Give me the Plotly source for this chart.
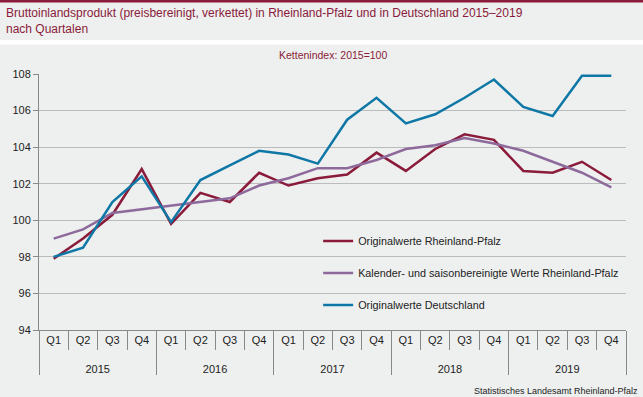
import plotly.graph_objects as go

years = ["2015"] * 4 + ["2016"] * 4 + ["2017"] * 4 + ["2018"] * 4 + ["2019"] * 4
quarters = ["Q1", "Q2", "Q3", "Q4"] * 5

rlp_original = [97.9, 99.0, 100.3, 102.8, 99.8, 101.5, 101.0, 102.6, 101.9, 102.3,
                102.5, 103.7, 102.7, 103.9, 104.7, 104.4, 102.7, 102.6, 103.2, 102.2]
rlp_adjusted = [99.0, 99.5, 100.4, 100.6, 100.8, 101.0, 101.2, 101.9, 102.3, 102.85,
                102.85, 103.3, 103.9, 104.1, 104.5, 104.2, 103.8, 103.2, 102.6, 101.8]
de_original = [98.0, 98.5, 101.0, 102.4, 99.9, 102.2, 103.0, 103.8, 103.6, 103.1,
               105.5, 106.7, 105.3, 105.8, 106.7, 107.7, 106.2, 105.7, 107.9, 107.9]

names = ["Originalwerte Rheinland-Pfalz",
         "Kalender- und saisonbereinigte Werte Rheinland-Pfalz",
         "Originalwerte Deutschland"]
colors = ["#8a1b3a", "#8d6a9b", "#0e77a6"]

BG = "#eef0ef"
MAROON = "#8a1b3a"
FONT = "Liberation Sans"

# year row pushed down a little (leading line break) to match the reference spacing
year_labels = ["<br>" + y for y in years]

fig = go.Figure()
x = [year_labels, quarters]
for i, (vals, name, col) in enumerate(zip([rlp_original, rlp_adjusted, de_original], names, colors)):
    fig.add_trace(go.Scatter(
        x=x, y=vals, mode="lines", name=name,
        line=dict(color=col, width=2.5),
        legend="legend" if i == 0 else f"legend{i+1}",
        hoverinfo="skip",
    ))

leg_x = (315 - 33) / 593
leg_common = dict(bgcolor="rgba(0,0,0,0)", font=dict(family=FONT, size=10.8, color="#222"),
                  xanchor="left", yanchor="middle", itemwidth=30)
fig.update_layout(
    width=643, height=397,
    paper_bgcolor=BG, plot_bgcolor=BG,
    margin=dict(l=33, r=17, t=74, b=67),
    font=dict(family=FONT, size=11, color="#222"),
    showlegend=True,
    legend=dict(x=leg_x, y=1 - (241 - 74) / 256, **leg_common),
    legend2=dict(x=leg_x, y=1 - (273 - 74) / 256, **leg_common),
    legend3=dict(x=leg_x, y=1 - (305 - 74) / 256, **leg_common),
    xaxis=dict(
        type="multicategory", showgrid=False, range=[-0.5, 19.5],
        showline=True, linecolor="#888", linewidth=1,
        ticks="outside", ticklen=19, tickcolor="#888", tickwidth=1,
        showdividers=True, dividercolor="#888", dividerwidth=1,
        tickfont=dict(family=FONT, size=11, color="#222"),
    ),
    yaxis=dict(
        range=[94, 108], dtick=2, showgrid=True, gridcolor="#bcbcbc", gridwidth=1,
        showline=True, linecolor="#888", linewidth=1,
        ticks="outside", ticklen=5, tickcolor="#888",
        zeroline=False, tickfont=dict(family=FONT, size=11, color="#222"),
    ),
    shapes=[
        dict(type="rect", xref="paper", yref="paper", x0=-0.1, x1=1.1, y0=1.115, y1=1.1328,
             fillcolor="white", line=dict(width=0), layer="below"),
        dict(type="rect", xref="paper", yref="paper", x0=-0.1, x1=1.1, y0=1.279, y1=1.3,
             fillcolor=MAROON, line=dict(width=0), layer="above"),
    ],
    annotations=[
        dict(text="Bruttoinlandsprodukt (preisbereinigt, verkettet) in Rheinland-Pfalz und in Deutschland 2015–2019<br>nach Quartalen",
             xref="paper", yref="paper", x=-35 / 593, y=1 + 70 / 256, xanchor="left", yanchor="top",
             align="left", showarrow=False, font=dict(family=FONT, size=12, color=MAROON)),
        dict(text="Kettenindex: 2015=100", xref="paper", yref="paper", x=0.5, y=1 + 19 / 256,
             xanchor="center", yanchor="middle", showarrow=False,
             font=dict(family=FONT, size=10.5, color=MAROON)),
        dict(text="Statistisches Landesamt Rheinland-Pfalz", xref="paper", yref="paper",
             x=(470 - 33) / 593, y=-(391 - 330) / 256, xanchor="left", yanchor="middle",
             showarrow=False, font=dict(family=FONT, size=9, color="#222")),
    ],
)

fig.write_html("out.html", config={"displayModeBar": False},
               post_script="document.body.style.margin='0';")
